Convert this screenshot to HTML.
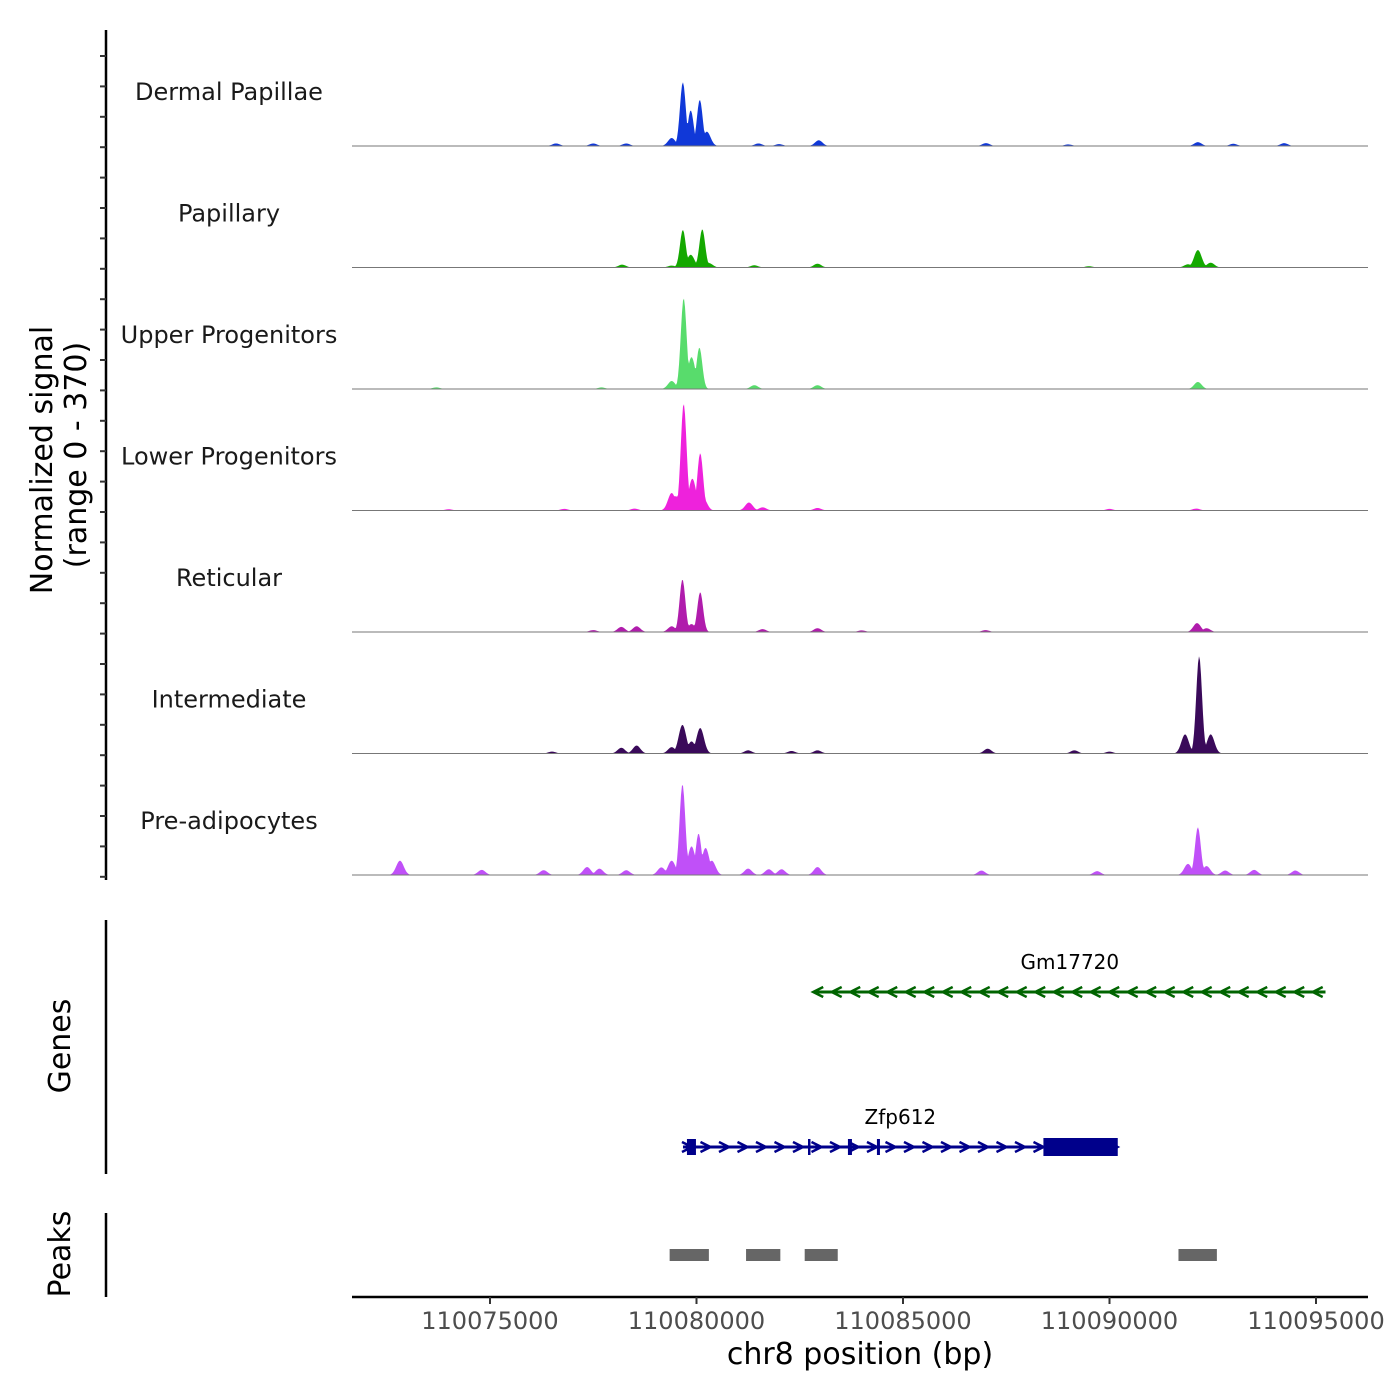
<!DOCTYPE html>
<html><head><meta charset="utf-8"><style>
html,body{margin:0;padding:0;background:#fff;}
svg{display:block;font-family:"DejaVu Sans","Liberation Sans",sans-serif;}
</style></head><body>
<svg id="chart" width="1400" height="1400" viewBox="0 0 1400 1400" xmlns="http://www.w3.org/2000/svg"></svg>
<script>
// ---- data ----
const trackNames = ["Dermal Papillae","Papillary","Upper Progenitors","Lower Progenitors","Reticular","Intermediate","Pre-adipocytes"];
const trackColors = ["#1038d8","#14a800","#58dc6c","#ee22dc","#b01cac","#3a0a5a","#c050f8"];
const xTicks = [110075000,110080000,110085000,110090000,110095000];
const xTickLabels = ["110075000","110080000","110085000","110090000","110095000"];
// peak centres (bp) and heights (signal 0-370) per track
const peakPos = [
 [110079400,110079670,110079860,110080080,110080250,110082960,110087010,110092140,110094230,110076600,110077500,110078300,110081500,110082000,110093000,110089000],
 [110079400,110079670,110079860,110080140,110080300,110082930,110078200,110081400,110092140,110092450,110091900,110089500],
 [110079400,110079690,110079880,110080070,110081400,110082930,110092140,110077700,110073700],
 [110079400,110079500,110079690,110079900,110080090,110080160,110081270,110081600,110082930,110078500,110090000,110092100,110076800,110074000],
 [110079400,110079660,110079880,110080090,110078180,110078550,110081600,110082930,110092120,110092350,110077500,110087000,110084000],
 [110079400,110079660,110079880,110080090,110078180,110078550,110081250,110082300,110082930,110087050,110089150,110091830,110092170,110092450,110090000,110076500],
 [110079400,110079660,110079880,110080050,110080220,110080370,110079150,110091900,110092140,110092350,110072820,110077350,110077650,110078300,110081250,110081750,110082060,110082930,110086900,110074800,110089700,110092800,110093500,110094500,110076300]
];
const peakVal = [
 [25,200,112,145,45,18,9,12,9,8,8,8,8,6,7,5],
 [6,118,40,120,14,12,9,7,55,15,10,4],
 [25,285,100,130,12,12,22,5,5],
 [55,45,335,100,180,40,25,10,8,6,5,6,5,4],
 [18,165,25,125,16,18,9,12,28,12,6,6,5],
 [20,90,38,80,18,25,10,8,10,15,10,60,305,60,6,6],
 [45,285,90,130,85,45,24,35,150,28,45,25,20,15,20,18,18,25,14,16,12,14,16,14,15]
];
const geneNames = ["Gm17720","Zfp612"];
const geneStart = [110082850,110079673];
const geneEnd = [110095230,110090200];
const zExonStart = [110079769,110082700,110083667,110084369,110088400];
const zExonEnd = [110079987,110082750,110083764,110084442,110090200];
const peakRegStart = [110079350,110081200,110082620,110091670];
const peakRegEnd = [110080300,110082030,110083420,110092600];

// ---- scales ----
const X0=352, X1=1368, D0=110071659, D1=110096259;
const xs = v => X0 + (v-D0)/(D1-D0)*(X1-X0);
const baselines=[146,267.5,389,510.5,632,753.5,875];
const yScale = v => v/370*118;
const NS="http://www.w3.org/2000/svg";
const svg=document.getElementById('chart');
function el(tag,attrs,parent){const e=document.createElementNS(NS,tag);for(const k in attrs)e.setAttribute(k,attrs[k]);(parent||svg).appendChild(e);return e;}

// left signal axis
el('line',{x1:106,y1:30,x2:106,y2:880,stroke:'#000','stroke-width':2.5,});
for(let y=56;y<=878;y+=30.4){el('line',{x1:100,y1:y,x2:106,y2:y,stroke:'#333','stroke-width':2,});}
let t=el('text',{x:0,y:0,'font-size':30,'text-anchor':'middle',fill:'#000',transform:'translate(52,460) rotate(-90)',});t.textContent='Normalized signal';
t=el('text',{x:0,y:0,'font-size':30,'text-anchor':'middle',fill:'#000',transform:'translate(86,455) rotate(-90)',});t.textContent='(range 0 - 370)';

// tracks
const halfW=70;
trackNames.forEach((name,i)=>{
  const g=el('g',{});
  
  
  const b=baselines[i];
  const n=X1-X0; const prof=new Array(n+1).fill(0);
  peakPos[i].forEach((p,j)=>{
    const cx=xs(p), h=yScale(peakVal[i][j]), w=halfW/(D1-D0)*(X1-X0)*(peakVal[i][j]>100?1:1.3);
    for(let k=Math.floor(cx-w*3);k<=Math.ceil(cx+w*3);k++){const idx=k-X0;if(idx<0||idx>n)continue;const d=(k-cx)/w;prof[idx]=Math.max(prof[idx],h*Math.exp(-d*d/2));}
  });
  let d='M'+X0+','+b;
  for(let k=0;k<=n;k++){d+=' L'+(X0+k)+','+(b-prof[k]).toFixed(2);}
  d+=' L'+X1+','+b+' Z';
  const p=el('path',{d:d,fill:trackColors[i],stroke:'none'},g);
  
  
  const l=el('line',{x1:X0,y1:b,x2:X1,y2:b,stroke:'#777','stroke-width':1},g);
  
  
  const tx=el('text',{x:229,y:b-46,'font-size':24,'text-anchor':'middle',fill:'#1a1a1a'},g);
  
  
  tx.textContent=name;
});

// genes panel
el('line',{x1:106,y1:920,x2:106,y2:1174,stroke:'#000','stroke-width':2.5,});
t=el('text',{x:0,y:0,'font-size':30,'text-anchor':'middle',fill:'#000',transform:'translate(70,1046) rotate(-90)',});t.textContent='Genes';
const geneY=[992,1147], geneCol=["#006400","#00008b"], geneDir=[-1,1];
geneNames.forEach((gname,i)=>{
  const g=el('g',{});
  
  
  const a=xs(geneStart[i]), bx=xs(geneEnd[i]), y=geneY[i], c=geneCol[i];
  el('line',{x1:a,y1:y,x2:bx,y2:y,stroke:c,'stroke-width':3},g);
  for(let x=a+4;x<bx-2;x+=18.5){
    const dx=geneDir[i]*5;
    el('polyline',{points:`${x-dx},${y-5} ${x+dx},${y} ${x-dx},${y+5}`,fill:'none',stroke:c,'stroke-width':2.5},g);
  }
  const tx=el('text',{x:(a+bx)/2,y:y-23,'font-size':20,'text-anchor':'middle',fill:'#000'},g);
  
  
  tx.textContent=gname;
});
zExonStart.forEach((s,j)=>{
  const a=xs(s), b=xs(zExonEnd[j]);
  const big=j===zExonStart.length-1;
  const r=el('rect',{x:a,y:big?1138:1139,width:Math.max(b-a,2.5),height:big?18:16,fill:'#00008b'});
  
  
});

// peaks panel
el('line',{x1:106,y1:1213,x2:106,y2:1297,stroke:'#000','stroke-width':2.5,});
t=el('text',{x:0,y:0,'font-size':30,'text-anchor':'middle',fill:'#000',transform:'translate(70,1254) rotate(-90)',});t.textContent='Peaks';
peakRegStart.forEach((s,j)=>{
  const r=el('rect',{x:xs(s),y:1249,width:xs(peakRegEnd[j])-xs(s),height:12,fill:'#666'});
  
  
});

// x axis
el('line',{x1:X0,y1:1297,x2:X1,y2:1297,stroke:'#000','stroke-width':2.5,});
xTicks.forEach((v,j)=>{
  const x=xs(v);
  const tk=el('line',{x1:x,y1:1297,x2:x,y2:1304,stroke:'#333','stroke-width':2});
  
  
  const tx=el('text',{x:x,y:1329,'font-size':24,'text-anchor':'middle',fill:'#4d4d4d'});
  
  
  tx.textContent=xTickLabels[j];
});
t=el('text',{x:860,y:1364,'font-size':30,'text-anchor':'middle',fill:'#000',});t.textContent='chr8 position (bp)';
</script>
</body></html>
